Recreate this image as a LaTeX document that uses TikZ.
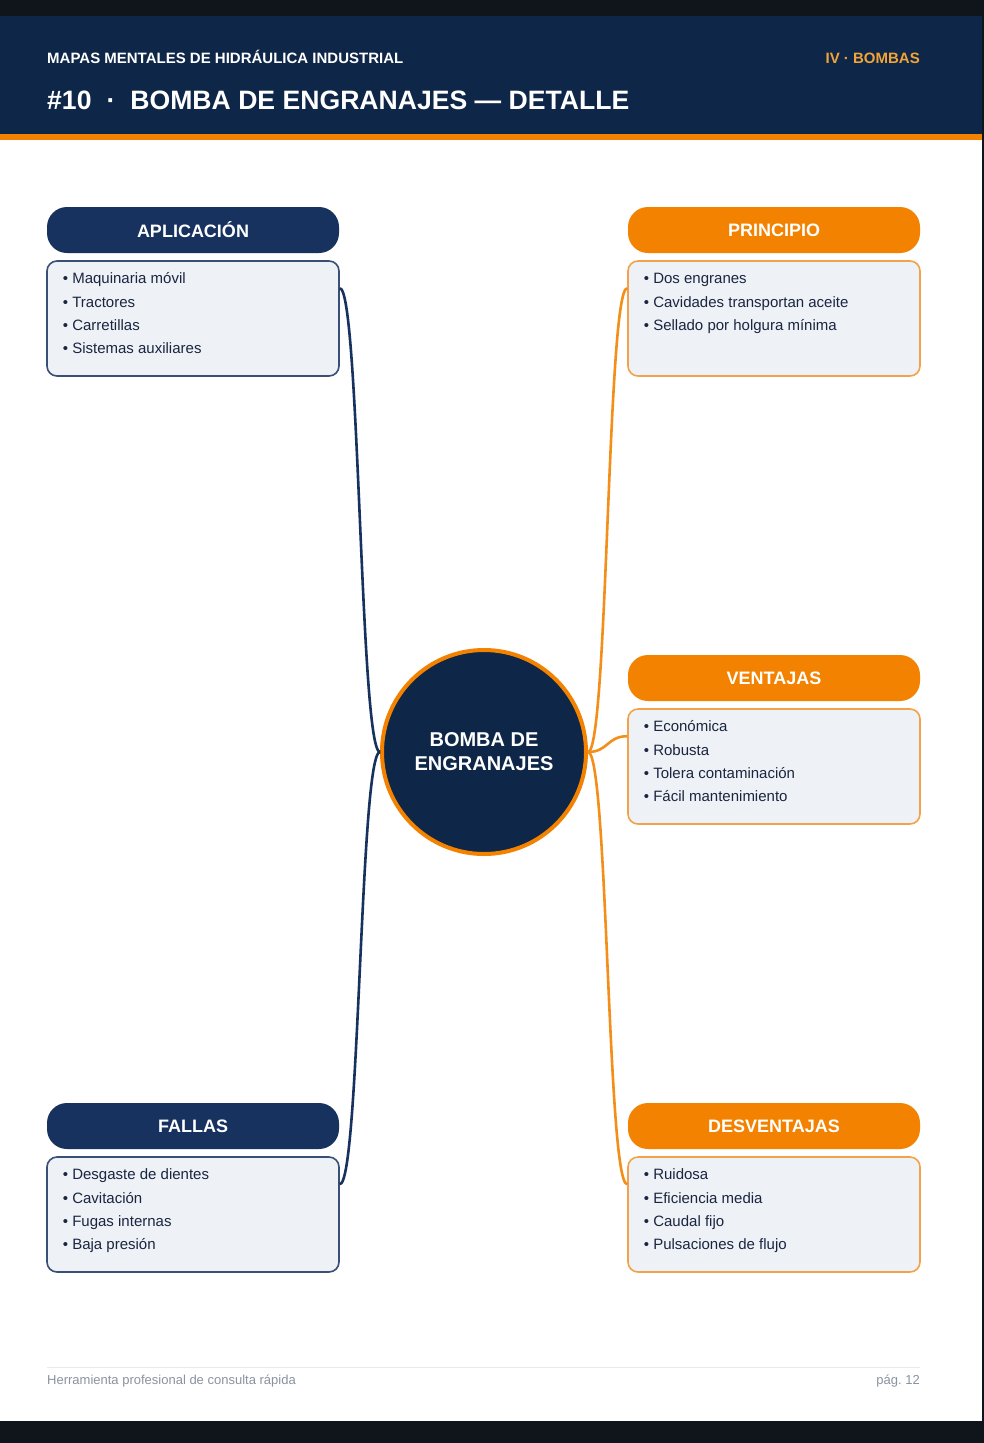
\documentclass[tikz,border=0pt]{standalone}
\usepackage{fontspec}
\setmainfont{Liberation Sans}
\usepackage{xcolor}
\usetikzlibrary{
    positioning,
    calc
}

\definecolor{pagenavy}{HTML}{0E2647}
\definecolor{pillnavy}{HTML}{17325F}
\definecolor{brandorange}{HTML}{F28200}
\definecolor{boxfill}{HTML}{EEF1F6}
\definecolor{boxnavy}{HTML}{3A4F75}
\definecolor{boxorange}{HTML}{F2A24A}
\definecolor{itemtext}{HTML}{1A2640}
\definecolor{framedark}{HTML}{10151C}
\definecolor{tagorange}{HTML}{F2A43A}
\definecolor{footgray}{HTML}{8A93A0}
\definecolor{footline}{HTML}{E6E9EE}

\newcommand{\itemfont}{\fontsize{15}{23.4}\selectfont}

\begin{document}
\frenchspacing
\begin{tikzpicture}[
        x=1pt, y=-1pt,
        head/.style={
            rectangle,
            rounded corners=20pt,
            inner sep=0pt,
            minimum width=292pt,
            minimum height=46pt,
            text=white,
            font=\bfseries\fontsize{18}{22}\selectfont
        },
        navyhead/.style={head, fill=pillnavy},
        orangehead/.style={head, fill=brandorange},
        itembox/.style={
            rectangle,
            rounded corners=10pt,
            fill=boxfill,
            line width=1.6pt,
            minimum width=292pt,
            minimum height=115pt
        },
        navybox/.style={itembox, draw=boxnavy},
        orangebox/.style={itembox, draw=boxorange},
        itemlist/.style={
            inner sep=0pt,
            align=left,
            anchor=north west,
            text=itemtext,
            font=\itemfont
        },
        navylink/.style={draw=pillnavy, line width=2.6pt},
        orangelink/.style={draw=brandorange!90!white, line width=2.6pt}
    ]

    \useasboundingbox (0,0) rectangle (984,1443);

    % page and header band
    \fill[framedark] (0,0) rectangle (984,1443);
    \fill[white] (0,16) rectangle (982,1421);
    \fill[pagenavy] (0,16) rectangle (982,134);
    \fill[brandorange] (0,134) rectangle (982,140);

    \node[anchor=base west, inner sep=0pt, text=white,
        font=\bfseries\fontsize{15}{18}\selectfont] (series) at (47,63.5)
        {MAPAS MENTALES DE HIDRÁULICA INDUSTRIAL};
    \node[anchor=base east, inner sep=0pt, text=tagorange,
        font=\bfseries\fontsize{15}{18}\selectfont] (chapter) at (920,63.5)
        {IV · BOMBAS};
    \node[anchor=base west, inner sep=0pt, text=white,
        font=\bfseries\fontsize{26.6}{30}\selectfont] (title) at (47,109.5)
        {\#10\hspace{15pt}·\hspace{15pt}BOMBA DE ENGRANAJES — DETALLE};

    % central idea
    \node[circle, fill=pagenavy, draw=brandorange, line width=4pt,
        minimum size=204pt, inner sep=0pt, align=center, text=white,
        font=\bfseries\fontsize{20}{24}\selectfont] (core) at (484,752)
        {BOMBA DE\\ENGRANAJES};

    % left branches
    \node[navyhead] (aplhead) at (193,230) {APLICACIÓN};
    \node[navybox, below=7pt of aplhead] (apl) {};
    \node[itemlist] (apllist) at ([shift={(16.5pt,-7pt)}]apl.north west)
        {• Maquinaria móvil\strut\\• Tractores\strut\\• Carretillas\strut\\• Sistemas auxiliares\strut};

    \node[navyhead] (falhead) at (193,1126) {FALLAS};
    \node[navybox, below=7pt of falhead] (fal) {};
    \node[itemlist] (fallist) at ([shift={(16.5pt,-7pt)}]fal.north west)
        {• Desgaste de dientes\strut\\• Cavitación\strut\\• Fugas internas\strut\\• Baja presión\strut};

    % right branches
    \node[orangehead] (prihead) at (774,230) {PRINCIPIO};
    \node[orangebox, below=7pt of prihead] (pri) {};
    \node[itemlist] (prilist) at ([shift={(16.5pt,-7pt)}]pri.north west)
        {• Dos engranes\strut\\• Cavidades transportan aceite\strut\\• Sellado por holgura mínima\strut};

    \node[orangehead] (venhead) at (774,678) {VENTAJAS};
    \node[orangebox, below=7pt of venhead] (ven) {};
    \node[itemlist] (venlist) at ([shift={(16.5pt,-7pt)}]ven.north west)
        {• Económica\strut\\• Robusta\strut\\• Tolera contaminación\strut\\• Fácil mantenimiento\strut};

    \node[orangehead] (deshead) at (774,1126) {DESVENTAJAS};
    \node[orangebox, below=7pt of deshead] (des) {};
    \node[itemlist] (deslist) at ([shift={(16.5pt,-7pt)}]des.north west)
        {• Ruidosa\strut\\• Eficiencia media\strut\\• Caudal fijo\strut\\• Pulsaciones de flujo\strut};

    % links
    \draw[navylink] (core.west) .. controls +(-20,0) and +(20,0) .. ([yshift=-28pt]apl.north east);
    \draw[navylink] (core.west) .. controls +(-20,0) and +(20,0) .. ([yshift=-28pt]fal.north east);
    \draw[orangelink] (core.east) .. controls +(20,0) and +(-20,0) .. ([yshift=-28pt]pri.north west);
    \draw[orangelink] (core.east) .. controls +(20,0) and +(-20,0) .. ([yshift=-28pt]ven.north west);
    \draw[orangelink] (core.east) .. controls +(20,0) and +(-20,0) .. ([yshift=-28pt]des.north west);

    % footer
    \draw[footline, line width=1pt] (47,1367) coordinate (footl) -- (920,1367) coordinate (footr);
    \node[anchor=base west, inner sep=0pt, text=footgray,
        font=\fontsize{13}{16}\selectfont] (note) at (47,1384)
        {Herramienta profesional de consulta rápida};
    \node[anchor=base east, inner sep=0pt, text=footgray,
        font=\fontsize{13}{16}\selectfont] (page) at (920,1384)
        {pág. 12};

\end{tikzpicture}
\end{document}
